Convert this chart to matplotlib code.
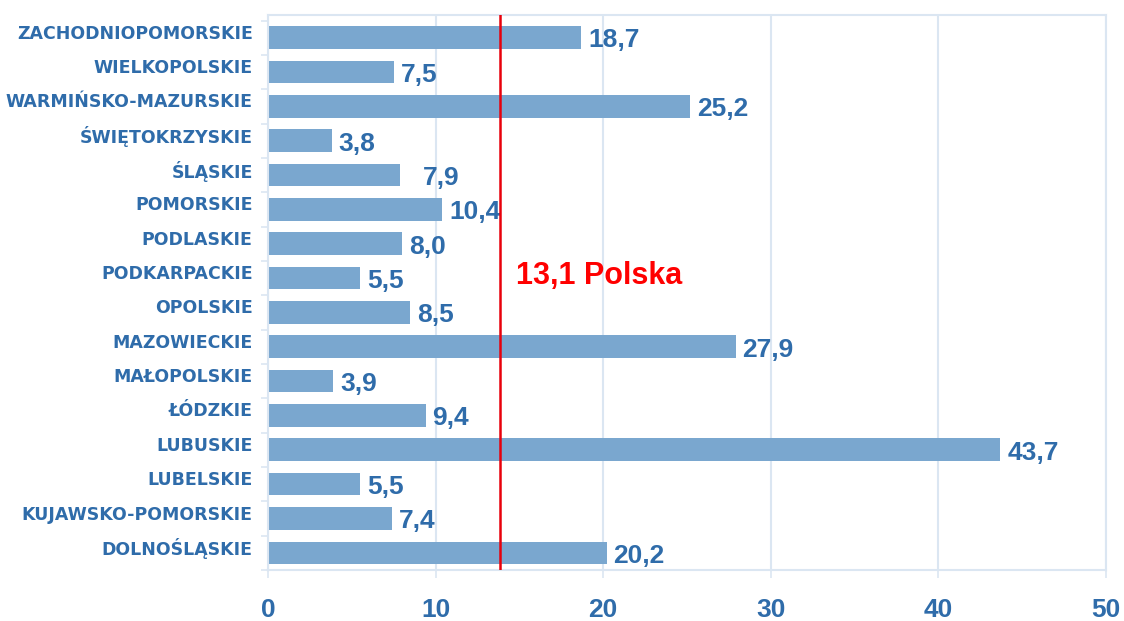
import matplotlib
matplotlib.use("Agg")
import matplotlib.pyplot as plt
import matplotlib.transforms as mtransforms
import numpy as np

categories = ["DOLNOŚLĄSKIE", "KUJAWSKO-POMORSKIE", "LUBELSKIE", "LUBUSKIE", "ŁÓDZKIE",
              "MAŁOPOLSKIE", "MAZOWIECKIE", "OPOLSKIE", "PODKARPACKIE", "PODLASKIE",
              "POMORSKIE", "ŚLĄSKIE", "ŚWIĘTOKRZYSKIE", "WARMIŃSKO-MAZURSKIE",
              "WIELKOPOLSKIE", "ZACHODNIOPOMORSKIE"]
values = [20.2, 7.4, 5.5, 43.7, 9.4, 3.9, 27.9, 8.5, 5.5, 8.0, 10.4, 7.9, 3.8, 25.2, 7.5, 18.7]
polska_value = 13.1
polska_line_x = 13.85  # position of the red line as drawn in the reference
xticks = [0, 10, 20, 30, 40, 50]

plt.rcParams['font.family'] = ['Liberation Sans', 'DejaVu Sans']

BAR = "#7aa7cf"
TXT = "#2f6caa"
GRID = "#dbe6f2"

fig = plt.figure(figsize=(11.24, 6.21), dpi=100)
ax = fig.add_axes([0.2384, 0.0821, 0.9840 - 0.2384, 0.9758 - 0.0821])

y = np.arange(len(categories))
ax.barh(y, values, height=0.66, color=BAR, zorder=2)

for yi, v in zip(y, values):
    lab = f"{v:.1f}".replace(".", ",")
    pad = 5 if v != 7.9 else 16
    ax.annotate(lab, (v, yi), xytext=(pad, -2), textcoords="offset points",
                ha="left", va="center", fontsize=19, fontweight="bold", color=TXT, zorder=3)

ax.axvline(polska_line_x, color="#e8000b", lw=1.8, zorder=4)
ax.text(polska_line_x + 0.95, 8.06, f"{polska_value:.1f}".replace(".", ",") + " Polska",
        ha="left", va="center", fontsize=22, fontweight="bold", color="#ff0000", zorder=4)

ax.set_xlim(0, 50)
ax.set_ylim(-0.35, 15.66)
ax.set_xticks(xticks)
ax.set_xticklabels([str(t) for t in xticks], fontsize=19, fontweight="bold", color=TXT)
ax.set_yticks(y)
ax.set_yticklabels(categories, fontsize=12.5, fontweight="bold", color=TXT,
                   family=["DejaVu Sans"])
ax.tick_params(axis="y", length=0, pad=11)
shift = mtransforms.ScaledTranslation(0, 6 / 100, fig.dpi_scale_trans)
for lbl in ax.get_yticklabels():
    lbl.set_transform(lbl.get_transform() + shift)
ax.set_yticks(np.arange(-0.5, 16, 1.0), minor=True)
ax.tick_params(axis="y", which="minor", length=5, color=GRID, width=1.2)
ax.tick_params(axis="x", length=6, color=GRID, width=1.2, pad=14)

ax.grid(axis="x", color=GRID, lw=1.5, zorder=0)
for s in ax.spines.values():
    s.set_color(GRID)
    s.set_linewidth(1.5)

fig.savefig("out.png", dpi=100)
